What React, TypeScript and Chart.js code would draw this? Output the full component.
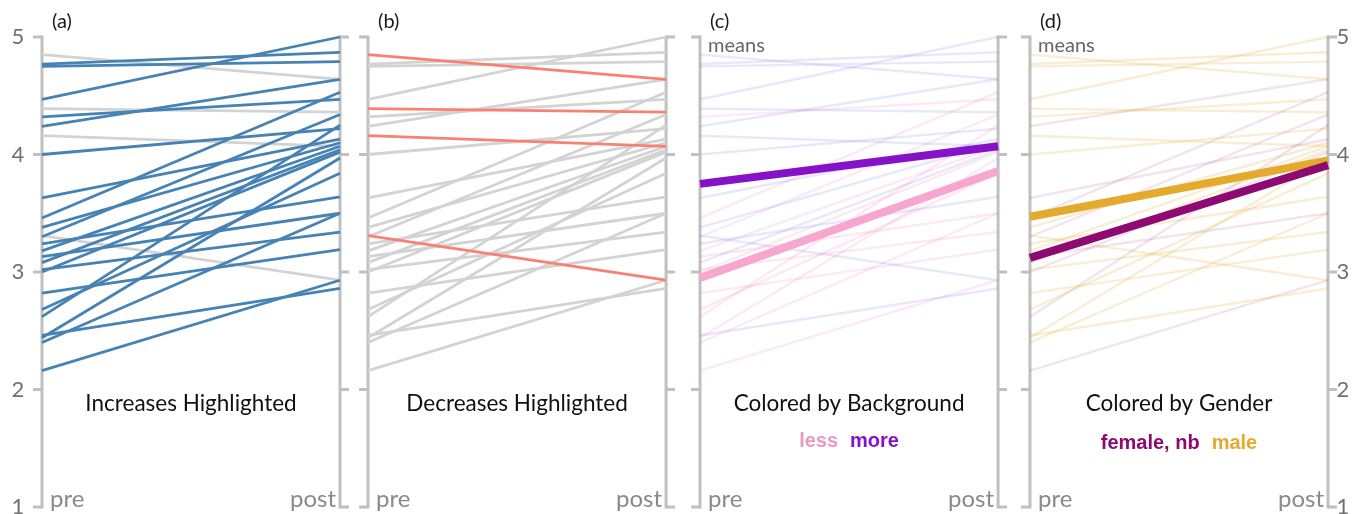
import React, { useEffect, useRef } from "react";
import { Chart, registerables } from "chart.js";

Chart.register(...registerables);

// ---------- data ----------
const panelLetters = ["(a)", "(b)", "(c)", "(d)"];
const panelTitles = [
  "Increases Highlighted",
  "Decreases Highlighted",
  "Colored by Background",
  "Colored by Gender",
];
const panelOffsets = [0, 1.094, 2.208, 3.315];
const axisTicks = [1, 2, 3, 4, 5];
const timeLabels = ["pre", "post"];

const preScores = [
  4.85, 4.39, 4.16, 3.31, 4.77, 4.75, 4.47, 4.32, 4.24, 4.0, 3.63, 3.46, 3.38,
  3.3, 3.24, 3.18, 3.13, 3.08, 3.02, 3.0, 2.82, 2.68, 2.62, 2.46, 2.44, 2.4, 2.16,
];
const postScores = [
  4.64, 4.36, 4.07, 2.93, 4.87, 4.79, 5.0, 4.47, 4.64, 4.22, 4.13, 4.53, 4.1,
  4.34, 3.64, 4.07, 3.5, 4.04, 3.34, 4.02, 3.19, 3.84, 4.25, 2.86, 3.97, 3.5, 2.93,
];
const background = [
  "more", "more", "more", "more", "more", "more", "more", "less", "more", "more",
  "more", "less", "more", "less", "more", "less", "less", "more", "less", "less",
  "less", "less", "less", "more", "less", "less", "less",
];
const gender = [
  "male", "male", "male", "male", "male", "male", "male", "male", "female, nb",
  "male", "female, nb", "female, nb", "male", "female, nb", "male", "male",
  "female, nb", "male", "male", "female, nb", "male", "male", "female, nb",
  "male", "male", "male", "female, nb",
];

const backgroundGroups = ["less", "more"];
const backgroundMeanPre = [2.95, 3.75];
const backgroundMeanPost = [3.86, 4.07];
const genderGroups = ["female, nb", "male"];
const genderMeanPre = [3.12, 3.47];
const genderMeanPost = [3.91, 3.95];

// ---------- styles ----------
const BLUE = "#4682b4";
const RED = "#fa8072";
const GRAY = "#d3d3d3";
const AXIS = "#c0c0c0";
const bgMeanColor: Record<string, string> = { less: "#f7a6cf", more: "#8512c9" };
const bgFaint: Record<string, string> = {
  less: "rgba(245,120,170,0.16)",
  more: "rgba(120,120,230,0.17)",
};
const bgLegendColor: Record<string, string> = { less: "#e899c2", more: "#8512c9" };
const genderMeanColor: Record<string, string> = { "female, nb": "#8e0a70", male: "#e4aa2e" };
const genderFaint: Record<string, string> = {
  "female, nb": "rgba(140,10,110,0.11)",
  male: "rgba(227,170,44,0.2)",
};

const seg = (off: number, a: number, b: number) => [
  { x: off, y: a },
  { x: off + 1, y: b },
];

function buildDatasets() {
  const ds: any[] = [];
  const base = { pointRadius: 0, fill: false, clip: false, tension: 0 };
  preScores.forEach((pre, i) => {
    const post = postScores[i];
    const inc = post > pre;
    ds.push({ ...base, data: seg(panelOffsets[0], pre, post), borderColor: inc ? BLUE : GRAY, borderWidth: 2.8, order: inc ? 1 : 2 });
    ds.push({ ...base, data: seg(panelOffsets[1], pre, post), borderColor: !inc ? RED : GRAY, borderWidth: 2.8, order: !inc ? 1 : 2 });
    ds.push({ ...base, data: seg(panelOffsets[2], pre, post), borderColor: bgFaint[background[i]], borderWidth: 2.4, order: 3 });
    ds.push({ ...base, data: seg(panelOffsets[3], pre, post), borderColor: genderFaint[gender[i]], borderWidth: 2.4, order: 3 });
  });
  backgroundGroups.forEach((g, k) => {
    ds.push({ ...base, data: seg(panelOffsets[2], backgroundMeanPre[k], backgroundMeanPost[k]), borderColor: bgMeanColor[g], borderWidth: 8, order: 0 });
  });
  genderGroups.forEach((g, k) => {
    ds.push({ ...base, data: seg(panelOffsets[3], genderMeanPre[k], genderMeanPost[k]), borderColor: genderMeanColor[g], borderWidth: 8, order: 0 });
  });
  return ds;
}

const TEXT_FONT = "Lato, 'Open Sans', sans-serif";

const decorPlugin = {
  id: "decor",
  beforeDatasetsDraw(chart: any) {
    const { ctx, scales } = chart;
    const x = scales.x;
    const y = scales.y;
    ctx.save();
    ctx.strokeStyle = AXIS;
    ctx.lineWidth = 3;
    ctx.lineCap = "butt";
    panelOffsets.forEach((off) => {
      [0, 1].forEach((side) => {
        const px = x.getPixelForValue(off + side);
        const top = y.getPixelForValue(5);
        const bot = y.getPixelForValue(1);
        ctx.beginPath();
        ctx.moveTo(px, top - 1.5);
        ctx.lineTo(px, bot + 1.5);
        ctx.stroke();
        axisTicks.forEach((t) => {
          const py = y.getPixelForValue(t);
          const dir = side === 0 ? -1 : 1;
          ctx.beginPath();
          ctx.moveTo(px, py);
          ctx.lineTo(px + dir * 9, py);
          ctx.stroke();
        });
      });
    });
    ctx.restore();
  },
  afterDraw(chart: any) {
    const { ctx, scales } = chart;
    const x = scales.x;
    const y = scales.y;
    ctx.save();
    // tick labels on outer axes
    ctx.fillStyle = "#707070";
    ctx.font = `22px ${TEXT_FONT}`;
    ctx.textAlign = "center";
    ctx.textBaseline = "middle";
    const leftX = x.getPixelForValue(panelOffsets[0]);
    const rightX = x.getPixelForValue(panelOffsets[3] + 1);
    axisTicks.forEach((t) => {
      const py = y.getPixelForValue(t);
      ctx.fillText(String(t), leftX - 24, py);
      ctx.fillText(String(t), rightX + 15, py);
    });

    panelOffsets.forEach((off, p) => {
      const l = x.getPixelForValue(off);
      const r = x.getPixelForValue(off + 1);
      const c = (l + r) / 2;
      // panel letter
      ctx.fillStyle = "#1a1a1a";
      ctx.font = `20px ${TEXT_FONT}`;
      ctx.textAlign = "left";
      ctx.textBaseline = "alphabetic";
      ctx.fillText(panelLetters[p], l + 10, 28);
      // pre / post
      ctx.fillStyle = "#8a8a8a";
      ctx.font = `24px ${TEXT_FONT}`;
      ctx.textAlign = "left";
      ctx.fillText(timeLabels[0], l + 8, 507);
      ctx.textAlign = "right";
      ctx.fillText(timeLabels[1], r - 4, 507);
      // title
      ctx.fillStyle = "#111";
      ctx.font = `22.5px ${TEXT_FONT}`;
      ctx.textAlign = "center";
      ctx.fillText(panelTitles[p], c, 411);
      if (p >= 2) {
        ctx.fillStyle = "#666";
        ctx.font = `20px ${TEXT_FONT}`;
        ctx.textAlign = "left";
        ctx.fillText("means", l + 8, 52);
      }
      if (p === 2 || p === 3) {
        const groups = p === 2 ? backgroundGroups : genderGroups;
        const colors = p === 2 ? bgLegendColor : genderMeanColor;
        ctx.font = `bold 20px 'Liberation Sans', Arial, sans-serif`;
        const gap = 12;
        const widths = groups.map((g) => ctx.measureText(g).width);
        const total = widths.reduce((a, b) => a + b, 0) + gap;
        let cx = c - total / 2;
        ctx.textAlign = "left";
        groups.forEach((g, k) => {
          ctx.fillStyle = colors[g];
          ctx.fillText(g, cx, p === 2 ? 447 : 449);
          cx += widths[k] + gap;
        });
      }
    });
    ctx.restore();
  },
};

export default function App() {
  const ref = useRef<HTMLCanvasElement | null>(null);
  useEffect(() => {
    if (!ref.current) return;
    const chart = new Chart(ref.current, {
      type: "line",
      data: { datasets: buildDatasets() },
      options: {
        animation: false,
        responsive: false,
        devicePixelRatio: 1,
        parsing: true,
        layout: { padding: { left: 42, right: 29, top: 37, bottom: 7 } },
        scales: {
          x: { type: "linear", display: false, min: 0, max: 4.315 },
          y: { type: "linear", display: false, min: 1, max: 5 },
        },
        plugins: { legend: { display: false }, tooltip: { enabled: false } },
        elements: { line: { borderCapStyle: "butt" } },
      },
      plugins: [decorPlugin],
    } as any);
    return () => chart.destroy();
  }, []);
  return (
    <div style={{ position: "absolute", left: 0, top: 0, width: 1357, height: 514, background: "#fff" }}>
      <canvas ref={ref} width={1357} height={514} />
    </div>
  );
}
